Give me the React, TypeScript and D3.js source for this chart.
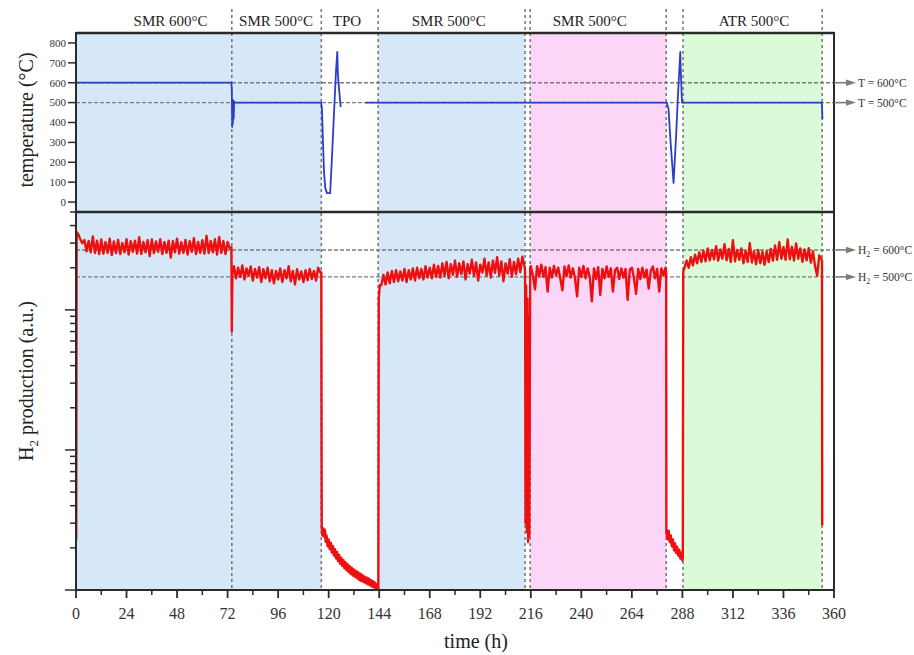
import React from "react";
import * as d3 from "d3";

// ---------- chart data ----------

// Reactor phases (hours)
const phaseLabels = ["SMR 600°C", "SMR 500°C", "TPO", "SMR 500°C", "SMR 500°C", "ATR 500°C"];
const phaseLabelHours = [44.9, 95, 128.7, 177, 244, 322];
const dividerHours = [74, 116.5, 143.5, 213.3, 215.7, 280.3, 288.3, 354.4];

// Shaded operating windows: [start, end, kind]
const bandStart = [0, 143.5, 215.7, 288.3];
const bandEnd = [116.5, 213.3, 280.3, 354.4];
const bandKind = ["smr", "smr", "smrRepeat", "atr"];

// Temperature set points drawn as references
const tempRefs = [600, 500];
const tempRefLabels = ["600°C", "500°C"];
// H2 production reference levels (a.u.)
const h2Refs = [268, 172];
const h2RefLabels = ["600°C", "500°C"];

const xTicks = d3.range(0, 361, 24);
const tempTicks = d3.range(0, 801, 100);

// Reactor temperature trace (h, °C); null marks the logging gap
const tempTrace: [number, number | null][] = [
  [0, 600], [73.8, 600], [74.0, 560], [74.2, 378], [74.35, 470], [74.5, 395], [74.7, 512],
  [74.9, 420], [75.1, 506], [75.4, 500], [116.4, 500], [116.8, 470], [117.3, 300],
  [117.8, 150], [118.4, 70], [119.2, 45], [120.7, 45], [121.5, 210], [122.5, 440],
  [123.5, 660], [124.1, 755], [124.4, 640], [125.0, 560], [125.7, 478],
  [126.0, null],
  [137.5, 500], [280.5, 500], [281.4, 470], [282.4, 300], [283.8, 96], [285.0, 330],
  [286.0, 560], [287.0, 755], [287.3, 640], [287.8, 500], [354.2, 500], [354.35, 470],
  [354.5, 418],
];

// H2 production (a.u.), hourly readings within each steady run
const h2Smr600 = [
  350, 320, 300, 315, 262, 310, 258, 335, 255, 312,
  250, 318, 252, 305, 256, 322, 246, 308, 255, 316,
  250, 300, 258, 320, 248, 310, 260, 312, 252, 330,
  250, 306, 258, 315, 242, 318, 255, 308, 260, 320,
  250, 305, 256, 312, 236, 310, 258, 322, 252, 304,
  256, 316, 248, 310, 260, 325, 250, 306, 256, 314,
  252, 338, 255, 310, 258, 320, 248, 332, 256, 310,
  250, 306, 275,
];
const h2Smr500a = [
  205, 168, 200, 172, 208, 165, 198, 175, 204, 162,
  196, 170, 202, 158, 195, 168, 200, 160, 192, 155,
  190, 165, 198, 158, 192, 168, 205, 160, 190, 152,
  195, 165, 188, 158, 192, 163, 196, 166, 190, 162,
  200, 185,
];
const h2Tpo: [number, number][] = [
  [116.5, 185], [116.7, 2.8], [117.0, 2.45], [117.4, 2.75], [117.8, 2.4], [118.2, 2.7],
  [118.6, 2.2], [119, 2.45], [119.5, 2.05], [120, 2.3], [120.5, 1.95], [121, 2.18],
  [121.5, 1.85], [122, 2.06], [122.5, 1.76], [123, 1.96], [123.5, 1.68], [124, 1.87],
  [124.5, 1.6], [125, 1.78], [125.5, 1.54], [126, 1.7], [126.5, 1.48], [127, 1.64],
  [127.5, 1.43], [128, 1.58], [128.5, 1.38], [129, 1.53], [129.5, 1.34], [130, 1.48],
  [130.5, 1.3], [131, 1.44], [131.5, 1.27], [132, 1.4], [132.5, 1.24], [133, 1.37],
  [133.5, 1.21], [134, 1.34], [134.5, 1.18], [135, 1.31], [135.5, 1.16], [136, 1.28],
  [136.5, 1.14], [137, 1.25], [137.5, 1.12], [138, 1.23], [138.5, 1.1], [139, 1.21],
  [139.5, 1.08], [140, 1.18], [140.5, 1.06], [141, 1.16], [141.5, 1.04], [142, 1.13],
  [142.5, 1.03], [143, 1.1], [143.4, 1.02], [143.6, 1.01], [143.8, 122], [144.3, 150],
];
const h2Smr500b = [
  150, 178, 152, 185, 155, 190, 158, 192, 160, 188,
  162, 196, 158, 192, 165, 198, 162, 200, 168, 196,
  165, 205, 170, 200, 168, 210, 172, 206, 170, 215,
  175, 220, 168, 212, 178, 225, 172, 215, 180, 222,
  165, 212, 182, 228, 175, 218, 162, 210, 185, 232,
  176, 218, 170, 225, 184, 238, 176, 222, 160, 215,
  182, 230, 172, 220, 180, 232, 186, 240, 205,
];
const h2Dip: [number, number][] = [
  [213.3, 190], [213.5, 3.0], [213.8, 150], [214.1, 2.6], [214.4, 120], [214.7, 2.2],
  [215.0, 90], [215.3, 2.4], [215.7, 200],
];
const h2Smr500c = [
  205, 176, 140, 205, 174, 210, 172, 202, 135, 200,
  170, 206, 176, 200, 168, 138, 204, 174, 208, 170,
  198, 168, 125, 200, 172, 206, 168, 198, 172, 115,
  198, 166, 202, 128, 196, 168, 204, 172, 198, 135,
  192, 200, 166, 198, 170, 196, 118, 194, 200, 168,
  130, 196, 166, 200, 170, 194, 142, 190, 204, 168,
  196, 135, 198, 176, 200,
];
const h2Regen: [number, number][] = [
  [280.3, 185], [280.4, 2.55], [281, 2.3], [281.5, 2.65], [282, 2.2], [282.5, 2.45],
  [283, 2.05], [283.5, 2.3], [284, 1.92], [284.5, 2.15], [285, 1.84], [285.5, 2.04],
  [286, 1.76], [286.5, 1.94], [287, 1.68], [287.5, 1.85], [288, 1.62], [288.2, 1.74],
  [288.4, 187],
];
const h2Atr = [
  200, 225, 200, 238, 208, 248, 215, 258, 220, 265,
  222, 275, 226, 268, 230, 285, 225, 270, 232, 295,
  226, 272, 220, 315, 222, 268, 228, 275, 215, 265,
  220, 300, 218, 262, 212, 268, 215, 260, 210, 262,
  220, 272, 225, 288, 228, 305, 232, 280, 228, 318,
  230, 282, 225, 298, 232, 275, 220, 270, 226, 276,
  218, 262, 205, 175, 245, 230,
];
const h2Shutdown: [number, number][] = [[354.3, 225], [354.4, 2.9]];

// ---------- layout & style ----------
const W = 914;
const H = 655;
const left = 76;
const right = 834;
const top = 33;
const mid = 212;
const bottom = 590;

const FONT = "'Liberation Serif', 'Times New Roman', serif";
const bandFill: Record<string, string> = {
  smr: "#d6e7f8",
  smrRepeat: "#fbd6f7",
  atr: "#d9fbd8",
};
const axisColor = "#2a2a2a";
const guideColor = "#7c7c7c";

const x = d3.scaleLinear().domain([0, 360]).range([left, right]);
const yT = d3.scaleLinear().domain([-50, 850]).range([mid, top]);
const yH = d3.scaleLog().domain([1, 500]).range([bottom, mid]);

function hourly(startHour: number, values: number[]): [number, number][] {
  return values.map((v, i) => [startHour + i, v]);
}

const h2Trace: [number, number][] = [
  [0.1, 2.3], [0.3, 360], [0.6, 345],
  ...hourly(1, h2Smr600),
  [73.8, 280], [74.0, 70], [74.3, 200],
  ...hourly(75, h2Smr500a),
  ...h2Tpo,
  ...hourly(145, h2Smr500b),
  ...h2Dip,
  ...hourly(216, h2Smr500c),
  ...h2Regen,
  ...hourly(289, h2Atr),
  ...h2Shutdown,
];

export default function App() {
  const tempLine = d3
    .line<[number, number | null]>()
    .defined((d) => d[1] !== null)
    .x((d) => x(d[0]))
    .y((d) => yT(d[1] as number));
  const h2Line = d3
    .line<[number, number]>()
    .x((d) => x(d[0]))
    .y((d) => yH(d[1]));

  const logTicks = yH.ticks();
  const minorX = d3.range(12, 360, 24);

  const arrow = (y: number) => (
    <g>
      <line x1={right} x2={848} y1={y} y2={y} stroke={guideColor} strokeWidth={1.6} />
      <polygon points={`846,${y - 3.2} 856,${y} 846,${y + 3.2}`} fill={guideColor} />
    </g>
  );

  return (
    <svg width={W} height={H} style={{ position: "absolute", left: 0, top: 0 }} fontFamily={FONT}>
      <rect width={W} height={H} fill="#fff" />
      <defs>
        <clipPath id="clipTop">
          <rect x={left} y={top} width={right - left} height={mid - top} />
        </clipPath>
        <clipPath id="clipBottom">
          <rect x={left} y={mid} width={right - left} height={bottom - mid} />
        </clipPath>
      </defs>

      {/* shaded operating windows */}
      {bandStart.map((s, i) => (
        <rect
          key={i}
          x={x(s)}
          y={top}
          width={x(bandEnd[i]) - x(s)}
          height={bottom - top}
          fill={bandFill[bandKind[i]]}
        />
      ))}

      {/* reference levels */}
      {tempRefs.map((t, i) => (
        <line key={"tr" + i} x1={left} x2={right} y1={yT(t)} y2={yT(t)} stroke={guideColor} strokeWidth={1.4} strokeDasharray="4 2" />
      ))}
      {h2Refs.map((v, i) => (
        <line key={"hr" + i} x1={left} x2={right} y1={yH(v)} y2={yH(v)} stroke={guideColor} strokeWidth={1.4} strokeDasharray="4 2" />
      ))}

      {/* phase dividers */}
      {dividerHours.map((h, i) => (
        <line key={"dv" + i} x1={x(h)} x2={x(h)} y1={9} y2={bottom} stroke={guideColor} strokeWidth={1.6} strokeDasharray="3 3" />
      ))}

      {/* data */}
      <path d={tempLine(tempTrace) ?? ""} fill="none" stroke="#2a3ec8" strokeWidth={1.8} strokeLinejoin="round" clipPath="url(#clipTop)" />
      <path d={h2Line(h2Trace) ?? ""} fill="none" stroke="#ee1010" strokeWidth={2.4} strokeLinejoin="round" clipPath="url(#clipBottom)" />

      {/* frame */}
      <rect x={left} y={top} width={right - left} height={bottom - top} fill="none" stroke={axisColor} strokeWidth={2} />
      <line x1={left} x2={right} y1={top} y2={top} stroke={axisColor} strokeWidth={2.6} />
      <line x1={left} x2={right} y1={mid} y2={mid} stroke={axisColor} strokeWidth={2.6} />

      {/* temperature axis */}
      {tempTicks.map((t) => (
        <g key={"tt" + t}>
          <line x1={left - 8} x2={left} y1={yT(t)} y2={yT(t)} stroke={axisColor} strokeWidth={1.5} />
          <text x={left - 10} y={yT(t) + 3.8} fontSize={11} textAnchor="end" fill="#333">
            {t}
          </text>
        </g>
      ))}

      {/* H2 log axis (unlabelled) */}
      {logTicks.map((v, i) => {
        const major = Math.abs(Math.log10(v) - Math.round(Math.log10(v))) < 1e-9;
        return (
          <line key={"lt" + i} x1={left - (major ? 11 : 6)} x2={left} y1={yH(v)} y2={yH(v)} stroke={axisColor} strokeWidth={1.5} />
        );
      })}

      {/* time axis */}
      {xTicks.map((h) => (
        <g key={"xt" + h}>
          <line x1={x(h)} x2={x(h)} y1={bottom} y2={bottom + 8} stroke={axisColor} strokeWidth={1.8} />
          <text x={x(h)} y={619} fontSize={16} textAnchor="middle" fill="#333">
            {h}
          </text>
        </g>
      ))}
      {minorX.map((h) => (
        <line key={"xm" + h} x1={x(h)} x2={x(h)} y1={bottom} y2={bottom + 5} stroke={axisColor} strokeWidth={1.5} />
      ))}

      {/* phase titles */}
      {phaseLabels.map((l, i) => (
        <text key={"pl" + i} x={x(phaseLabelHours[i])} y={26} fontSize={15} textAnchor="middle" fill="#222">
          {l}
        </text>
      ))}

      {/* right-hand annotations */}
      {tempRefs.map((t, i) => (
        <g key={"ta" + i}>
          {arrow(yT(t))}
          <text x={858} y={yT(t) + 4} fontSize={11.5} fill="#333">
            {"T = " + tempRefLabels[i]}
          </text>
        </g>
      ))}
      {h2Refs.map((v, i) => (
        <g key={"ha" + i}>
          {arrow(yH(v))}
          <text x={858} y={yH(v) + 4} fontSize={11.5} fill="#333">
            H<tspan fontSize={8} dy={3}>2</tspan>
            <tspan dy={-3}>{" = " + h2RefLabels[i]}</tspan>
          </text>
        </g>
      ))}

      {/* axis titles */}
      <text transform="translate(33,120) rotate(-90)" fontSize={20} textAnchor="middle" fill="#222">
        temperature (°C)
      </text>
      <text transform="translate(33,381) rotate(-90)" fontSize={20} textAnchor="middle" fill="#222">
        H<tspan fontSize={13} dy={5}>2</tspan>
        <tspan dy={-5}> production (a.u.)</tspan>
      </text>
      <text x={476} y={648} fontSize={20} textAnchor="middle" fill="#222">
        time (h)
      </text>
    </svg>
  );
}
